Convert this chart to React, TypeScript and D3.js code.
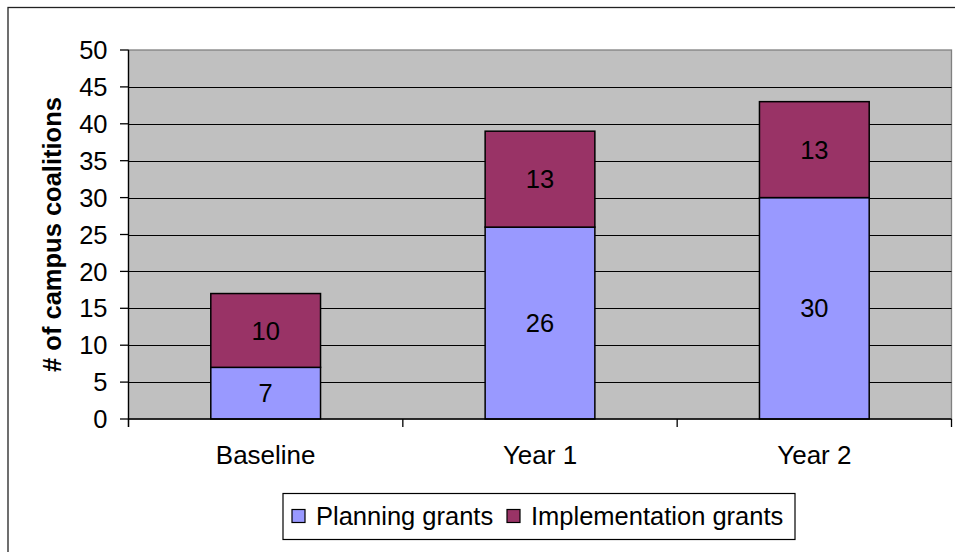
import React from "react";
import * as d3 from "d3";

const categories = ["Baseline", "Year 1", "Year 2"];
const planningGrants = [7, 26, 30];
const implementationGrants = [10, 13, 13];
const seriesNames = ["Planning grants", "Implementation grants"];
const seriesColors = ["#9999FF", "#993366"];
const yTicks = [0, 5, 10, 15, 20, 25, 30, 35, 40, 45, 50];
const yLabel = "# of campus coalitions";

const W = 955;
const H = 552;
const plot = { left: 128.5, right: 951.5, top: 50, bottom: 419 };
const FONT = "'Liberation Sans', Arial, sans-serif";

export default function App() {
  const x = d3
    .scaleBand<string>()
    .domain(categories)
    .range([plot.left, plot.right])
    .paddingInner(0.6)
    .paddingOuter(0.3);
  const y = d3.scaleLinear().domain([0, 50]).range([plot.bottom, plot.top]);

  const rows = categories.map((c, i) => ({
    cat: c,
    planning: planningGrants[i],
    implementation: implementationGrants[i],
  }));
  const stacked = d3.stack<any>().keys(["planning", "implementation"])(rows);

  const step = x.step();
  const boundaries = d3.range(categories.length + 1).map((i) => plot.left + i * step);

  return (
    <svg
      width={W}
      height={H}
      style={{ position: "absolute", left: 0, top: 0, background: "#fff" }}
      fontFamily={FONT}
    >
      {/* chart frame */}
      <rect x={8} y={7.5} width={1000} height={1000} fill="#fff" stroke="#222" strokeWidth={1.3} />

      {/* plot area */}
      <rect
        x={plot.left}
        y={plot.top}
        width={plot.right - plot.left}
        height={plot.bottom - plot.top}
        fill="#C0C0C0"
        stroke="#808080"
        strokeWidth={1.3}
      />

      {/* gridlines */}
      {yTicks
        .filter((t) => t > 0 && t < 50)
        .map((t) => (
          <line
            key={"g" + t}
            x1={plot.left}
            x2={plot.right}
            y1={Math.round(y(t)) + 0.5}
            y2={Math.round(y(t)) + 0.5}
            stroke="#000"
            strokeWidth={1}
          />
        ))}

      {/* stacked bars */}
      {stacked.map((layer, si) =>
        layer.map((d, i) => (
          <rect
            key={si + "-" + i}
            x={x(categories[i])!}
            y={y(d[1])}
            width={x.bandwidth()}
            height={y(d[0]) - y(d[1])}
            fill={seriesColors[si]}
            stroke="#000"
            strokeWidth={1.5}
          />
        ))
      )}

      {/* value labels */}
      {stacked.map((layer, si) =>
        layer.map((d, i) => (
          <text
            key={"v" + si + "-" + i}
            x={x(categories[i])! + x.bandwidth() / 2}
            y={y((d[0] + d[1]) / 2)}
            dy="0.36em"
            textAnchor="middle"
            fontSize={25.5}
            fill="#000"
          >
            {d[1] - d[0]}
          </text>
        ))
      )}

      {/* y axis */}
      <line x1={plot.left} x2={plot.left} y1={plot.top} y2={plot.bottom + 8} stroke="#000" strokeWidth={1.3} />
      {yTicks.map((t) => (
        <g key={"y" + t}>
          <line x1={plot.left - 8.5} x2={plot.left} y1={y(t)} y2={y(t)} stroke="#000" strokeWidth={1.3} />
          <text x={107.5} y={y(t)} dy="0.36em" textAnchor="end" fontSize={25.5} fill="#000">
            {t}
          </text>
        </g>
      ))}

      {/* x axis */}
      <line x1={plot.left} x2={plot.right} y1={plot.bottom} y2={plot.bottom} stroke="#000" strokeWidth={1.5} />
      {boundaries.map((bx, i) => (
        <line key={"xt" + i} x1={bx} x2={bx} y1={plot.bottom} y2={plot.bottom + 8} stroke="#000" strokeWidth={1.3} />
      ))}
      {categories.map((c) => (
        <text
          key={"xl" + c}
          x={x(c)! + x.bandwidth() / 2}
          y={464}
          textAnchor="middle"
          fontSize={26}
          fill="#000"
        >
          {c}
        </text>
      ))}

      {/* y axis title */}
      <text
        transform={`translate(61, ${(plot.top + plot.bottom) / 2}) rotate(-90)`}
        textAnchor="middle"
        fontSize={25.5}
        fontWeight="bold"
        fill="#000"
      >
        {yLabel}
      </text>

      {/* legend */}
      <rect x={283} y={493.5} width={512} height={46} fill="#fff" stroke="#000" strokeWidth={1.2} />
      {seriesNames.map((name, i) => {
        const lx = i === 0 ? 292 : 507;
        return (
          <g key={"lg" + i}>
            <rect x={lx} y={509.5} width={13} height={13} fill={seriesColors[i]} stroke="#000" strokeWidth={1.2} />
            <text x={lx + 24} y={516} dy="0.36em" fontSize={25.5} fill="#000">
              {name}
            </text>
          </g>
        );
      })}
    </svg>
  );
}
